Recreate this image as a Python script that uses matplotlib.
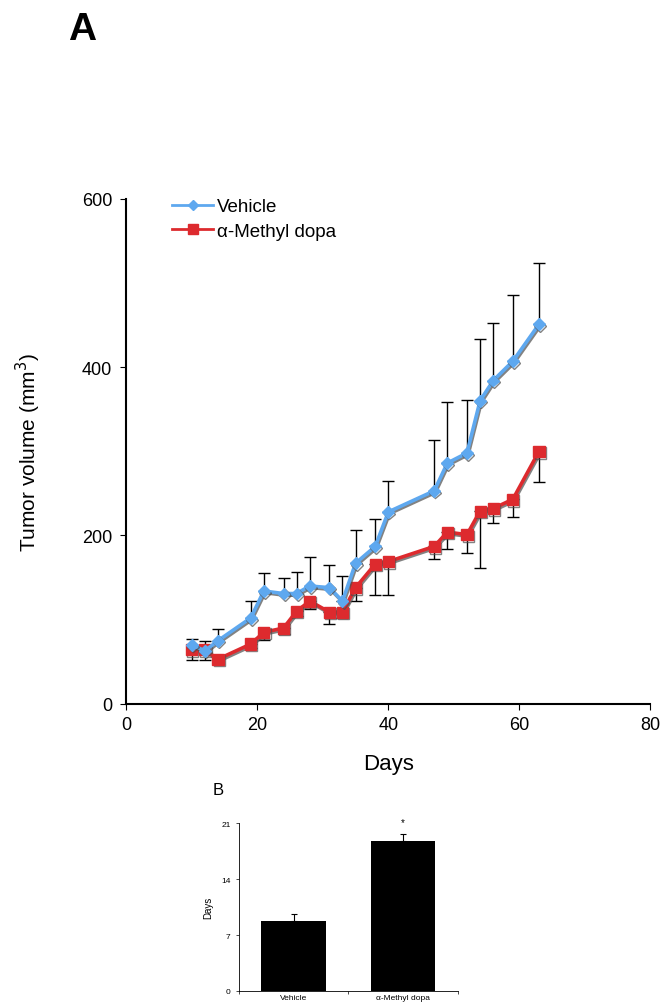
import numpy as np
import matplotlib.pyplot as plt
import matplotlib.patheffects as pe

plt.rcParams['font.family'] = ['Liberation Sans', 'DejaVu Sans']

# panel A data
days = [10, 12, 14, 19, 21, 24, 26, 28, 31, 33, 35, 38, 40, 47, 49, 52, 54, 56, 59, 63]
vehicle = [70, 63, 75, 102, 134, 131, 131, 140, 138, 122, 167, 187, 228, 253, 286, 298, 360, 384, 407, 451]
vehicle_top = [77, 75, 89, 122, 156, 149, 157, 174, 165, 152, 206, 219, 265, 313, 359, 361, 434, 453, 486, 524]
methyl = [64, 64, 53, 71, 85, 90, 110, 122, 109, 109, 138, 166, 169, 187, 204, 201, 229, 232, 243, 300]
methyl_low = [52, 52, 50, 66, 76, 83, 104, 113, 95, 102, 122, 129, 129, 172, 184, 179, 161, 215, 222, 264]

# panel B data
groups = ['Vehicle', 'α-Methyl dopa']
mean_days = [8.8, 18.8]
sem_days = [0.85, 0.85]

fig = plt.figure(figsize=(6.61, 10.04), dpi=100)

ax = fig.add_axes([0.191, 0.298, 0.793, 0.503])
shadow = [pe.SimpleLineShadow(offset=(0.8, -1.2), shadow_color='0.3', alpha=0.7), pe.Normal()]

v = np.array(vehicle)
m = np.array(methyl)
ax.errorbar(days, v, yerr=[np.zeros_like(v), np.array(vehicle_top) - v], fmt='none',
            ecolor='black', elinewidth=1, capsize=4, capthick=1, zorder=1)
ax.errorbar(days, m, yerr=[m - np.array(methyl_low), np.zeros_like(m)], fmt='none',
            ecolor='black', elinewidth=1, capsize=4, capthick=1, zorder=1)
ax.plot(days, vehicle, color='#5ea8ef', lw=2.6, marker='D', ms=6, mec='#5ea8ef',
        label='Vehicle', zorder=3, path_effects=shadow)
ax.plot(days, methyl, color='#dd2a2e', lw=2.6, marker='s', ms=8, mec='#dd2a2e',
        label='α-Methyl dopa', zorder=2, path_effects=shadow)

ax.set_xlim(0, 80)
ax.set_ylim(0, 600)
ax.set_xticks([0, 20, 40, 60, 80])
ax.set_yticks([0, 200, 400, 600])
for s in ['top', 'right']:
    ax.spines[s].set_visible(False)
ax.spines['left'].set_linewidth(1.5)
ax.spines['bottom'].set_linewidth(1.5)
ax.tick_params(axis='y', labelsize=13, length=4, width=0.8, pad=6)
ax.tick_params(axis='x', labelsize=13, length=4, width=0.8, pad=5)
ax.set_xlabel('Days', fontsize=16, labelpad=14)
ax.set_ylabel('Tumor volume (mm$^3$)', fontsize=15, labelpad=28)

# legend with plain thin handles
h1, = ax.plot([], [], color='#5ea8ef', lw=2, marker='D', ms=5)
h2, = ax.plot([], [], color='#dd2a2e', lw=2, marker='s', ms=7)
ax.legend([h1, h2], ['Vehicle', 'α-Methyl dopa'], loc='upper left',
          bbox_to_anchor=(0.055, 1.035), frameon=False, fontsize=13.5,
          handlelength=2.2, handletextpad=0.2, labelspacing=0.4)

fig.text(0.103, 0.970, 'A', fontsize=28, fontweight='semibold', ha='left', va='center')

# panel B
bx = fig.add_axes([0.3616, 0.012, 0.331, 0.167])
bx.bar([0, 1], mean_days, width=0.59, color='black')
bx.errorbar([0, 1], mean_days, yerr=[[0, 0], sem_days], fmt='none', ecolor='black',
            elinewidth=0.8, capsize=2, capthick=0.8)
bx.text(1, mean_days[1] + sem_days[1] + 0.9, '*', ha='center', va='bottom', fontsize=7)
bx.set_xlim(-0.5, 1.5)
bx.set_ylim(0, 21)
bx.set_yticks([0, 7, 14, 21])
bx.set_xticks([0, 1])
bx.set_xticklabels(groups)
bx.set_xticks([-0.5, 0.5, 1.5], minor=True)
bx.tick_params(axis='x', which='major', length=0, labelsize=6, pad=2)
bx.tick_params(axis='x', which='minor', length=2, width=0.5)
bx.tick_params(axis='y', labelsize=6, length=2, width=0.5, pad=4)
for s in ['top', 'right']:
    bx.spines[s].set_visible(False)
bx.spines['left'].set_linewidth(0.6)
bx.spines['bottom'].set_linewidth(0.6)
bx.set_ylabel('Days', fontsize=7, labelpad=6)

fig.text(0.33, 0.213, 'B', fontsize=12, ha='center', va='center')

fig.savefig('out.png', dpi=100)
